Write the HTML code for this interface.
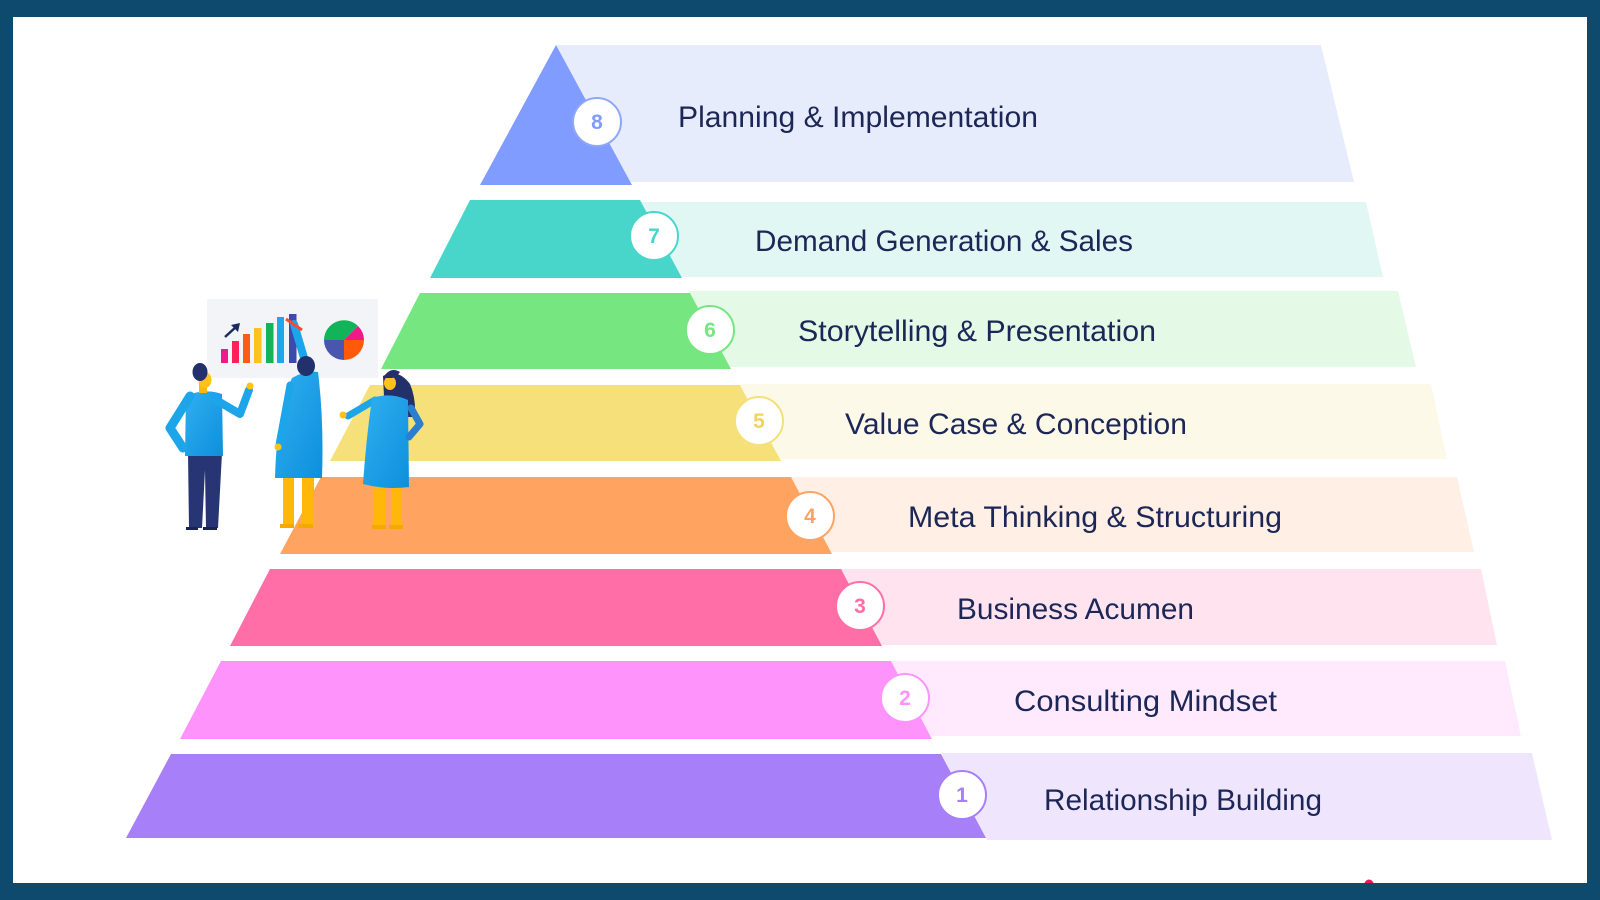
<!DOCTYPE html>
<html><head><meta charset="utf-8"><style>
html,body{margin:0;padding:0;background:#0d4a6e;}
svg{display:block}
text{font-family:"Liberation Sans",Arial,sans-serif}
</style></head><body>
<svg width="1600" height="900" viewBox="0 0 1600 900" xmlns="http://www.w3.org/2000/svg">
<defs>
<linearGradient id="blu" x1="0" y1="0" x2="1" y2="1"><stop offset="0" stop-color="#2fb0f0"/><stop offset="1" stop-color="#0d8fdc"/></linearGradient>
</defs>
<rect x="0" y="0" width="1600" height="900" fill="#0d4a6e"/>
<rect x="13" y="17" width="1574" height="866" fill="#ffffff"/>

<!-- light bands -->
<polygon points="556,45 1321,45 1354,182 630,182" fill="#e7ecfd"/>
<polygon points="641,202 1366,202 1383,277 681,277" fill="#e1f7f4"/>
<polygon points="689,291 1398,291 1416,367 730,367" fill="#e4f9e6"/>
<polygon points="740,384 1431,384 1447,459 780,459" fill="#fdf9e8"/>
<polygon points="791,477 1457,477 1474,552 831,552" fill="#ffefe4"/>
<polygon points="841,569 1481,569 1497,645 881,645" fill="#ffe4f0"/>
<polygon points="891,661 1505,661 1521,736 931,736" fill="#ffe9fd"/>
<polygon points="941,753 1532,753 1552,840 987,840" fill="#efe6fd"/>

<!-- dark sections -->
<polygon points="556,45 632,185 480,185" fill="#7f9cfe"/>
<polygon points="470,200 640,200 682,278 430,278" fill="#48d6ca"/>
<polygon points="420,293 690,293 731,369 381,369" fill="#75e680"/>
<polygon points="370,385 740,385 781,461 330,461" fill="#f5e07a"/>
<polygon points="321,477 791,477 832,554 280,554" fill="#ffa361"/>
<polygon points="270,569 841,569 882,646 230,646" fill="#ff6ea6"/>
<polygon points="221,661 891,661 932,739 180,739" fill="#ff93fc"/>
<polygon points="171,754 941,754 986,838 126,838" fill="#a67ff9"/>

<!-- circles -->
<g stroke-width="2" fill="#ffffff">
<circle cx="597" cy="122" r="24" stroke="#8ea6fb"/>
<circle cx="654" cy="236" r="24" stroke="#48d6ca"/>
<circle cx="710" cy="330" r="24" stroke="#75e680"/>
<circle cx="759" cy="421" r="24" stroke="#f5e07a"/>
<circle cx="810" cy="516" r="24" stroke="#ffa361"/>
<circle cx="860" cy="606" r="24" stroke="#ff6ea6"/>
<circle cx="905" cy="698" r="24" stroke="#ff93fc"/>
<circle cx="962" cy="795" r="24" stroke="#a67ff9"/>
</g>
<g font-size="21" font-weight="bold" text-anchor="middle">
<text x="597" y="129" fill="#7f9cfe">8</text>
<text x="654" y="243" fill="#48d6ca">7</text>
<text x="710" y="337" fill="#75e680">6</text>
<text x="759" y="428" fill="#f0d45c">5</text>
<text x="810" y="523" fill="#ffa361">4</text>
<text x="860" y="613" fill="#ff6ea6">3</text>
<text x="905" y="705" fill="#ff93fc">2</text>
<text x="962" y="802" fill="#a67ff9">1</text>
</g>

<!-- labels -->
<g font-size="30" fill="#1c2757">
<text x="678" y="127" textLength="360" lengthAdjust="spacingAndGlyphs">Planning &amp; Implementation</text>
<text x="755" y="251" textLength="378" lengthAdjust="spacingAndGlyphs">Demand Generation &amp; Sales</text>
<text x="798" y="341" textLength="358" lengthAdjust="spacingAndGlyphs">Storytelling &amp; Presentation</text>
<text x="845" y="434" textLength="342" lengthAdjust="spacingAndGlyphs">Value Case &amp; Conception</text>
<text x="908" y="527" textLength="374" lengthAdjust="spacingAndGlyphs">Meta Thinking &amp; Structuring</text>
<text x="957" y="619" textLength="237" lengthAdjust="spacingAndGlyphs">Business Acumen</text>
<text x="1014" y="711" textLength="263" lengthAdjust="spacingAndGlyphs">Consulting Mindset</text>
<text x="1044" y="810" textLength="278" lengthAdjust="spacingAndGlyphs">Relationship Building</text>
</g>

<!-- whiteboard -->
<rect x="207" y="299" width="171" height="79" fill="#f3f4f8"/>
<rect x="221" y="349" width="7" height="14" fill="#f0198a"/>
<rect x="232" y="341" width="7" height="22" fill="#ff1f5a"/>
<rect x="243" y="334" width="7" height="29" fill="#ff5a1a"/>
<rect x="254" y="328" width="7.5" height="35" fill="#ffc21a"/>
<rect x="266" y="323" width="7.5" height="40" fill="#12b45a"/>
<rect x="277" y="317" width="7" height="46" fill="#1ea7ea"/>
<rect x="289" y="314" width="7.5" height="49" fill="#3d4aa8"/>
<line x1="225" y1="337" x2="237" y2="326" stroke="#1e2a5e" stroke-width="2.5"/>
<polygon points="240,323 231,325 238,332" fill="#1e2a5e"/>
<!-- pie -->
<g transform="translate(344,340)">
<path d="M0,0 L-20,0 A20,20 0 0 1 14,-14 Z" fill="#12b45a"/>
<path d="M0,0 L14,-14 A20,20 0 0 1 20,0 Z" fill="#f0198a"/>
<path d="M0,0 L20,0 A20,20 0 0 1 0,20 Z" fill="#ff5a0a"/>
<path d="M0,0 L0,20 A20,20 0 0 1 -20,0 Z" fill="#4a55b0"/>
</g>

<!-- person 1 (man) -->
<g>
<path d="M188,453 L222,453 L218,528 L206,528 L205,470 L202,528 L189,528 Z" fill="#273574"/>
<path d="M186,527 h12 v3 h-12z M203,527 h14 v3 h-14z" fill="#1b2450"/>
<path d="M186,396 Q204,388 222,394 L223,456 L185,456 Z" fill="url(#blu)"/>
<path d="M190,396 L170,428 L183,448" stroke="#1da5ea" stroke-width="9" fill="none" stroke-linecap="round" stroke-linejoin="round"/>
<path d="M216,400 L240,414 L249,390" stroke="#1da5ea" stroke-width="8" fill="none" stroke-linecap="round" stroke-linejoin="round"/>
<circle cx="250" cy="386" r="3.5" fill="#ffc21a"/>
<rect x="199" y="383" width="8" height="10" fill="#ffb70a"/>
<ellipse cx="205" cy="380" rx="6.5" ry="8" fill="#ffc21a"/>
<ellipse cx="200" cy="372" rx="7.5" ry="9" fill="#22306b"/>
</g>

<!-- person 2 (middle woman) -->
<g>
<rect x="283" y="476" width="11" height="50" fill="#ffb70a"/>
<rect x="302" y="476" width="12" height="50" fill="#ffb70a"/>
<path d="M280,524 h14 v4 h-14z M298,524 h15 v4 h-15z" fill="#f5a800"/>
<path d="M307,368 L294,324" stroke="#1da5ea" stroke-width="8" stroke-linecap="round"/>
<line x1="286" y1="319" x2="302" y2="330" stroke="#ff4a2a" stroke-width="3"/>
<path d="M292,378 Q305,370 318,372 Q324,420 322,478 L275,478 Q276,440 281,420 Q284,395 292,378 Z" fill="url(#blu)"/>
<path d="M290,385 L279,445" stroke="#1da5ea" stroke-width="7" stroke-linecap="round"/>
<circle cx="278" cy="447" r="3.5" fill="#ffc21a"/>
<ellipse cx="306" cy="366" rx="9" ry="10" fill="#22306b"/>
</g>

<!-- person 3 (right woman) -->
<g>
<rect x="374" y="483" width="11" height="44" fill="#ffb70a"/>
<rect x="391" y="483" width="11" height="44" fill="#ffb70a"/>
<path d="M372,525 h14 v4 h-14z M389,525 h14 v4 h-14z" fill="#f5a800"/>
<path d="M383,376 Q398,368 410,384 Q416,398 415,417 L385,417 Z" fill="#22306b"/>
<path d="M375,400 L348,416" stroke="#1da5ea" stroke-width="7" stroke-linecap="round"/>
<circle cx="343" cy="415" r="3.5" fill="#ffc21a"/>
<path d="M372,398 Q390,392 408,400 L409,487 Q385,490 363,484 Q366,440 372,398 Z" fill="url(#blu)"/>
<path d="M411,408 L420,424 L409,437" stroke="#2a7fd0" stroke-width="7" fill="none" stroke-linecap="round" stroke-linejoin="round"/>
<ellipse cx="390" cy="383" rx="6" ry="7" fill="#ffc21a"/>
<path d="M383,378 Q390,366 400,372 Q396,378 392,378 Z" fill="#22306b"/>
</g>

<!-- red dot at bottom -->
<circle cx="1369" cy="884" r="4.5" fill="#e8185e"/>
<rect x="13" y="883" width="1574" height="17" fill="#0d4a6e"/>
</svg>
</body></html>
